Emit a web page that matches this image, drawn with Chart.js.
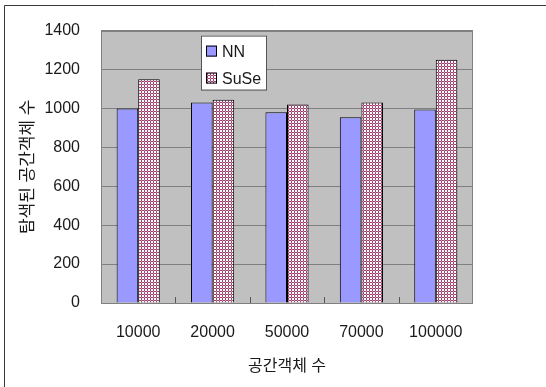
<!DOCTYPE html>
<html>
<head>
<meta charset="utf-8">
<script src="https://cdn.jsdelivr.net/npm/chart.js@4/dist/chart.umd.min.js"></script>
<style>
  html, body { margin: 0; padding: 0; background: #fff; }
  #c { display: block; }
</style>
</head>
<body>
<canvas id="c" width="546" height="387" style="width:546px;height:387px"></canvas>
<script>
// Number of spatial objects (x categories)
const categories = ['10000', '20000', '50000', '70000', '100000'];
// Number of spatial objects searched, per method
const nnValues = [1000, 1030, 980, 955, 995];
const suseValues = [1150, 1045, 1020, 1030, 1250];
const seriesNames = ['NN', 'SuSe'];
// Value axis range and step
const yMin = 0;
const yMax = 1400;
const yStep = 200;

const FONT_FAMILY = "'Liberation Sans', Arial, 'Noto Sans CJK KR', sans-serif";
const TEXT_COLOR = '#1a1a1a';
const PLOT_BG = '#c0c0c0';
const GRID = '#808080';

// Small maroon check fill for the second series
function makeCheckPattern() {
  const t = document.createElement('canvas');
  t.width = 3; t.height = 3;
  const g = t.getContext('2d');
  g.fillStyle = '#a0406e';
  g.fillRect(0, 0, 3, 3);
  g.fillStyle = '#c890aa';
  g.fillRect(0, 0, 1, 1);
  g.fillStyle = '#ffffff';
  g.fillRect(1, 1, 2, 2);
  return document.getElementById('c').getContext('2d').createPattern(t, 'repeat');
}
const checkPattern = makeCheckPattern();

const framePlugin = {
  id: 'frame',
  beforeDraw(chart) {
    const ctx = chart.ctx;
    const a = chart.chartArea;
    ctx.save();
    ctx.fillStyle = '#ffffff';
    ctx.fillRect(0, 0, chart.width, chart.height);
    // outer frame (top + left edge)
    ctx.strokeStyle = '#3a3a3a';
    ctx.lineWidth = 1;
    ctx.beginPath();
    ctx.moveTo(4.5, chart.height);
    ctx.lineTo(4.5, 5.5);
    ctx.lineTo(chart.width, 5.5);
    ctx.stroke();
    // plot background
    ctx.fillStyle = PLOT_BG;
    ctx.fillRect(a.left, a.top, a.right - a.left, a.bottom - a.top);
    ctx.restore();
  },
  beforeDatasetsDraw(chart) {
    const ctx = chart.ctx;
    const a = chart.chartArea;
    const xs = chart.scales.x;
    ctx.save();
    ctx.strokeStyle = GRID;
    ctx.lineWidth = 1;
    ctx.strokeRect(Math.round(a.left) + 0.5, Math.round(a.top) + 0.5,
                   Math.round(a.right - a.left) - 1, Math.round(a.bottom - a.top));
    // inside tick marks between categories
    ctx.strokeStyle = '#555';
    ctx.beginPath();
    for (let i = 1; i < categories.length; i++) {
      const x = Math.round((xs.getPixelForValue(i - 1) + xs.getPixelForValue(i)) / 2) + 0.5;
      ctx.moveTo(x, a.bottom);
      ctx.lineTo(x, a.bottom - 6);
    }
    ctx.stroke();
    ctx.restore();
  },
  afterDraw(chart) {
    // legend box inside the plot
    const ctx = chart.ctx;
    const a = chart.chartArea;
    const bx = a.left + 100, by = a.top + 5, bw = 65, bh = 54;
    ctx.save();
    ctx.fillStyle = '#ffffff';
    ctx.fillRect(bx, by, bw, bh);
    ctx.strokeStyle = '#555';
    ctx.lineWidth = 1;
    ctx.strokeRect(bx + 0.5, by + 0.5, bw, bh);
    ctx.font = '16px ' + FONT_FAMILY;
    ctx.textBaseline = 'middle';
    chart.data.datasets.forEach((ds, i) => {
      const cy = by + 16 + i * 27;
      ctx.fillStyle = ds.backgroundColor;
      ctx.fillRect(bx + 5, cy - 6, 11, 11);
      ctx.strokeStyle = '#000';
      ctx.strokeRect(bx + 5.5, cy - 5.5, 10, 10);
      ctx.fillStyle = TEXT_COLOR;
      ctx.fillText(ds.label, bx + 21, cy + 1);
    });
    ctx.restore();
  }
};

new Chart(document.getElementById('c'), {
  type: 'bar',
  data: {
    labels: categories,
    datasets: [
      {
        label: seriesNames[0],
        data: nnValues,
        backgroundColor: '#9999ff',
        borderColor: '#000',
        borderWidth: 1
      },
      {
        label: seriesNames[1],
        data: suseValues,
        backgroundColor: checkPattern,
        borderColor: '#000',
        borderWidth: 1
      }
    ]
  },
  options: {
    responsive: false,
    animation: false,
    devicePixelRatio: 1,
    layout: { padding: { top: 27, right: 73, left: 0, bottom: 0 } },
    datasets: { bar: { categoryPercentage: 0.58, barPercentage: 1.0 } },
    plugins: {
      legend: { display: false },
      tooltip: { enabled: false }
    },
    scales: {
      x: {
        afterFit(s) { s.height = 84; },
        grid: { display: false },
        border: { display: false },
        ticks: {
          color: TEXT_COLOR,
          font: { family: FONT_FAMILY, size: 16 },
          padding: 12,
          maxRotation: 0
        },
        title: {
          display: true,
          text: '공간객체 수',
          color: TEXT_COLOR,
          font: { family: FONT_FAMILY, size: 16 },
          padding: { top: 0, bottom: 11 }
        }
      },
      y: {
        min: yMin,
        max: yMax,
        afterFit(s) { s.width = 101; },
        grid: { color: GRID, drawTicks: false },
        border: { display: false },
        ticks: {
          stepSize: yStep,
          color: TEXT_COLOR,
          font: { family: FONT_FAMILY, size: 16 },
          padding: 21,
          callback: (v) => String(v)
        },
        title: {
          display: true,
          text: '탐색된 공간객체 수',
          color: TEXT_COLOR,
          font: { family: FONT_FAMILY, size: 17 },
          padding: { top: 18, bottom: 0 }
        }
      }
    }
  },
  plugins: [framePlugin]
});
</script>
</body>
</html>
